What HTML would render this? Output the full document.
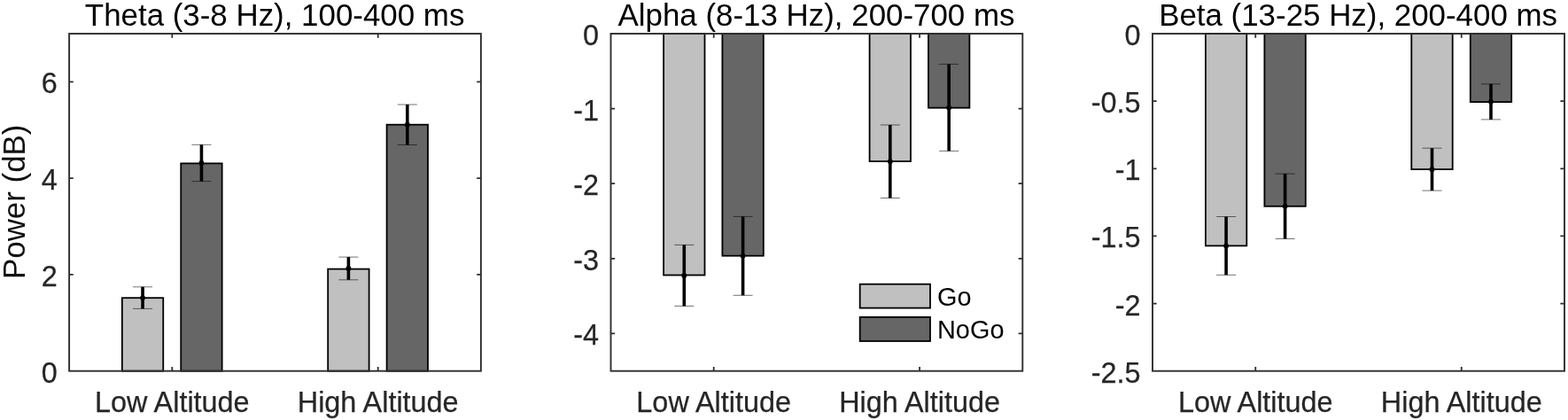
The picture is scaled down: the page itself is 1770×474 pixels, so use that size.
<!DOCTYPE html>
<html lang="en"><head><meta charset="utf-8"><title>Power by altitude</title>
<style>html,body{margin:0;padding:0;background:#fff}svg{display:block}text{font-family:"Liberation Sans",Arial,Helvetica,sans-serif;stroke-width:0.25px}</style></head><body>
<svg width="1770" height="474" viewBox="0 0 1770 474">
<rect width="1770" height="474" fill="#fff"/>
<g>
<rect x="137.85" y="336.20" width="46.40" height="82.50" fill="#c0c0c0" stroke="#000" stroke-width="1.8"/>
<rect x="204.25" y="184.40" width="46.40" height="234.30" fill="#666666" stroke="#000" stroke-width="1.8"/>
<rect x="370.20" y="303.60" width="46.40" height="115.10" fill="#c0c0c0" stroke="#000" stroke-width="1.8"/>
<rect x="436.60" y="140.70" width="46.40" height="278.00" fill="#666666" stroke="#000" stroke-width="1.8"/>
<rect x="78.10" y="38.00" width="464.80" height="380.70" fill="none" stroke="#2e2e2e" stroke-width="1.9"/>
<path d="M78.10 309.93h4.65M542.90 309.93h-4.65M78.10 201.16h4.65M542.90 201.16h-4.65M78.10 92.39h4.65M542.90 92.39h-4.65M194.30 418.70v-4.65M194.30 38.00v4.65M426.70 418.70v-4.65M426.70 38.00v4.65" fill="none" stroke="#2e2e2e" stroke-width="1.8"/>
<path d="M161.05 323.80V348.40" stroke="#000" stroke-width="3.6" fill="none"/>
<path d="M150.05 323.80h22M150.05 348.40h22" stroke="#000" stroke-opacity="0.55" stroke-width="1" fill="none"/>
<circle cx="161.05" cy="336.10" r="2.9" fill="#000"/>
<path d="M227.45 163.30V204.60" stroke="#000" stroke-width="3.6" fill="none"/>
<path d="M216.45 163.30h22M216.45 204.60h22" stroke="#000" stroke-opacity="0.55" stroke-width="1" fill="none"/>
<circle cx="227.45" cy="183.95" r="2.9" fill="#000"/>
<path d="M393.40 290.10V315.80" stroke="#000" stroke-width="3.6" fill="none"/>
<path d="M382.40 290.10h22M382.40 315.80h22" stroke="#000" stroke-opacity="0.55" stroke-width="1" fill="none"/>
<circle cx="393.40" cy="302.95" r="2.9" fill="#000"/>
<path d="M459.80 118.00V163.50" stroke="#000" stroke-width="3.6" fill="none"/>
<path d="M448.80 118.00h22M448.80 163.50h22" stroke="#000" stroke-opacity="0.55" stroke-width="1" fill="none"/>
<circle cx="459.80" cy="140.75" r="2.9" fill="#000"/>
<text x="64.70" y="431.70" font-size="32.4" fill="#262626" stroke="#262626" text-anchor="end">0</text>
<text x="64.70" y="322.93" font-size="32.4" fill="#262626" stroke="#262626" text-anchor="end">2</text>
<text x="64.70" y="214.16" font-size="32.4" fill="#262626" stroke="#262626" text-anchor="end">4</text>
<text x="64.70" y="105.39" font-size="32.4" fill="#262626" stroke="#262626" text-anchor="end">6</text>
<text x="194.30" y="464.6" font-size="32.4" fill="#262626" stroke="#262626" text-anchor="middle">Low Altitude</text>
<text x="426.70" y="464.6" font-size="32.4" fill="#262626" stroke="#262626" text-anchor="middle">High Altitude</text>
<text x="310.10" y="28.6" font-size="34.9" fill="#000" text-anchor="middle">Theta (3-8 Hz), 100-400 ms</text>
</g>
<g>
<rect x="749.10" y="38.00" width="46.40" height="272.50" fill="#c0c0c0" stroke="#000" stroke-width="1.8"/>
<rect x="815.40" y="38.00" width="46.40" height="250.70" fill="#666666" stroke="#000" stroke-width="1.8"/>
<rect x="981.60" y="38.00" width="46.40" height="144.10" fill="#c0c0c0" stroke="#000" stroke-width="1.8"/>
<rect x="1048.00" y="38.00" width="46.40" height="83.70" fill="#666666" stroke="#000" stroke-width="1.8"/>
<rect x="689.50" y="38.00" width="464.80" height="380.70" fill="none" stroke="#2e2e2e" stroke-width="1.9"/>
<path d="M689.50 122.60h4.65M1154.30 122.60h-4.65M689.50 207.20h4.65M1154.30 207.20h-4.65M689.50 291.80h4.65M1154.30 291.80h-4.65M689.50 376.40h4.65M1154.30 376.40h-4.65M805.70 418.70v-4.65M805.70 38.00v4.65M1038.10 418.70v-4.65M1038.10 38.00v4.65" fill="none" stroke="#2e2e2e" stroke-width="1.8"/>
<path d="M772.30 276.40V345.40" stroke="#000" stroke-width="3.6" fill="none"/>
<path d="M761.30 276.40h22M761.30 345.40h22" stroke="#000" stroke-opacity="0.55" stroke-width="1" fill="none"/>
<circle cx="772.30" cy="310.90" r="2.9" fill="#000"/>
<path d="M838.60 244.40V333.30" stroke="#000" stroke-width="3.6" fill="none"/>
<path d="M827.60 244.40h22M827.60 333.30h22" stroke="#000" stroke-opacity="0.55" stroke-width="1" fill="none"/>
<circle cx="838.60" cy="288.85" r="2.9" fill="#000"/>
<path d="M1004.80 141.00V223.50" stroke="#000" stroke-width="3.6" fill="none"/>
<path d="M993.80 141.00h22M993.80 223.50h22" stroke="#000" stroke-opacity="0.55" stroke-width="1" fill="none"/>
<circle cx="1004.80" cy="182.25" r="2.9" fill="#000"/>
<path d="M1071.20 72.40V170.40" stroke="#000" stroke-width="3.6" fill="none"/>
<path d="M1060.20 72.40h22M1060.20 170.40h22" stroke="#000" stroke-opacity="0.55" stroke-width="1" fill="none"/>
<circle cx="1071.20" cy="121.40" r="2.9" fill="#000"/>
<text x="676.10" y="51.00" font-size="32.4" fill="#262626" stroke="#262626" text-anchor="end">0</text>
<text x="676.10" y="135.60" font-size="32.4" fill="#262626" stroke="#262626" text-anchor="end">-1</text>
<text x="676.10" y="220.20" font-size="32.4" fill="#262626" stroke="#262626" text-anchor="end">-2</text>
<text x="676.10" y="304.80" font-size="32.4" fill="#262626" stroke="#262626" text-anchor="end">-3</text>
<text x="676.10" y="389.40" font-size="32.4" fill="#262626" stroke="#262626" text-anchor="end">-4</text>
<text x="805.70" y="464.6" font-size="32.4" fill="#262626" stroke="#262626" text-anchor="middle">Low Altitude</text>
<text x="1038.10" y="464.6" font-size="32.4" fill="#262626" stroke="#262626" text-anchor="middle">High Altitude</text>
<text x="921.50" y="28.6" font-size="34.9" fill="#000" text-anchor="middle">Alpha (8-13 Hz), 200-700 ms</text>
</g>
<g>
<rect x="1360.90" y="38.00" width="46.40" height="239.40" fill="#c0c0c0" stroke="#000" stroke-width="1.8"/>
<rect x="1427.40" y="38.00" width="46.40" height="194.80" fill="#666666" stroke="#000" stroke-width="1.8"/>
<rect x="1593.30" y="38.00" width="46.40" height="153.10" fill="#c0c0c0" stroke="#000" stroke-width="1.8"/>
<rect x="1659.80" y="38.00" width="46.40" height="77.10" fill="#666666" stroke="#000" stroke-width="1.8"/>
<rect x="1301.00" y="38.00" width="465.00" height="380.70" fill="none" stroke="#2e2e2e" stroke-width="1.9"/>
<path d="M1301.00 114.14h4.65M1766.00 114.14h-4.65M1301.00 190.28h4.65M1766.00 190.28h-4.65M1301.00 266.42h4.65M1766.00 266.42h-4.65M1301.00 342.56h4.65M1766.00 342.56h-4.65M1417.25 418.70v-4.65M1417.25 38.00v4.65M1649.75 418.70v-4.65M1649.75 38.00v4.65" fill="none" stroke="#2e2e2e" stroke-width="1.8"/>
<path d="M1384.10 244.50V310.30" stroke="#000" stroke-width="3.6" fill="none"/>
<path d="M1373.10 244.50h22M1373.10 310.30h22" stroke="#000" stroke-opacity="0.55" stroke-width="1" fill="none"/>
<circle cx="1384.10" cy="277.40" r="2.9" fill="#000"/>
<path d="M1450.60 196.10V269.50" stroke="#000" stroke-width="3.6" fill="none"/>
<path d="M1439.60 196.10h22M1439.60 269.50h22" stroke="#000" stroke-opacity="0.55" stroke-width="1" fill="none"/>
<circle cx="1450.60" cy="232.80" r="2.9" fill="#000"/>
<path d="M1616.50 167.20V215.10" stroke="#000" stroke-width="3.6" fill="none"/>
<path d="M1605.50 167.20h22M1605.50 215.10h22" stroke="#000" stroke-opacity="0.55" stroke-width="1" fill="none"/>
<circle cx="1616.50" cy="191.15" r="2.9" fill="#000"/>
<path d="M1683.00 94.80V134.90" stroke="#000" stroke-width="3.6" fill="none"/>
<path d="M1672.00 94.80h22M1672.00 134.90h22" stroke="#000" stroke-opacity="0.55" stroke-width="1" fill="none"/>
<circle cx="1683.00" cy="114.85" r="2.9" fill="#000"/>
<text x="1287.60" y="51.00" font-size="32.4" fill="#262626" stroke="#262626" text-anchor="end">0</text>
<text x="1287.60" y="127.14" font-size="32.4" fill="#262626" stroke="#262626" text-anchor="end">-0.5</text>
<text x="1287.60" y="203.28" font-size="32.4" fill="#262626" stroke="#262626" text-anchor="end">-1</text>
<text x="1287.60" y="279.42" font-size="32.4" fill="#262626" stroke="#262626" text-anchor="end">-1.5</text>
<text x="1287.60" y="355.56" font-size="32.4" fill="#262626" stroke="#262626" text-anchor="end">-2</text>
<text x="1287.60" y="431.70" font-size="32.4" fill="#262626" stroke="#262626" text-anchor="end">-2.5</text>
<text x="1417.25" y="464.6" font-size="32.4" fill="#262626" stroke="#262626" text-anchor="middle">Low Altitude</text>
<text x="1649.75" y="464.6" font-size="32.4" fill="#262626" stroke="#262626" text-anchor="middle">High Altitude</text>
<text x="1533.10" y="28.6" font-size="34.9" fill="#000" text-anchor="middle">Beta (13-25 Hz), 200-400 ms</text>
</g>
<text transform="translate(27.6 227.8) rotate(-90)" font-size="34.9" fill="#111" text-anchor="middle">Power (dB)</text>
<g>
<rect x="970.7" y="320.7" width="79.3" height="26.9" fill="#c0c0c0" stroke="#000" stroke-width="1.8"/>
<rect x="970.7" y="357.9" width="79.3" height="27.1" fill="#666666" stroke="#000" stroke-width="1.8"/>
<text x="1058" y="344.6" font-size="28.9" fill="#000">Go</text>
<text x="1058" y="382" font-size="28.9" fill="#000">NoGo</text>
</g>
</svg></body></html>
